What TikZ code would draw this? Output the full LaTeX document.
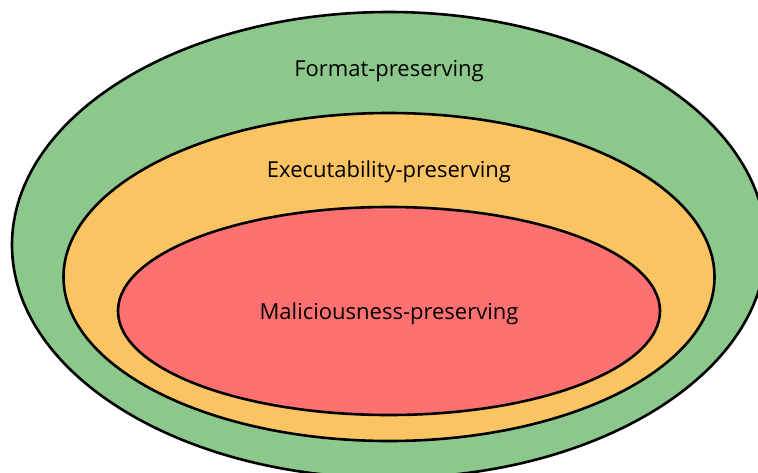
\documentclass[tikz,border=0pt]{standalone}
\usepackage{fontspec}
\setmainfont{Open Sans}
\usepackage{tikz}
\usetikzlibrary{shapes.geometric}

\definecolor{formatgreen}{RGB}{140,200,140}
\definecolor{execorange}{RGB}{251,196,99}
\definecolor{malred}{RGB}{255,113,113}

\begin{document}
\begin{tikzpicture}[x=1pt,y=-1pt]
    \tikzstyle{set} = [draw, shape=ellipse, line width=2.6pt, inner sep=0pt];
    \tikzstyle{setlabel} = [font=\fontsize{22}{26}\selectfont, inner sep=0pt];

    \useasboundingbox (0,0) rectangle (758,472);
    \clip (0,0) rectangle (758,472);

    % Sets
    \node [set, fill=formatgreen, minimum width=754pt, minimum height=466pt] (format) at (389,245) {};
    \node [set, fill=execorange, minimum width=651pt, minimum height=328pt] (exec) at (389,277) {};
    \node [set, fill=malred, minimum width=542pt, minimum height=208pt] (mal) at (389,311) {};

    % Labels
    \node [setlabel] (formatlabel) at (389,71.5) {Format-preserving};
    \node [setlabel] (execlabel) at (389,171.5) {Executability-preserving};
    \node [setlabel] (mallabel) at (389,313.5) {Maliciousness-preserving};
\end{tikzpicture}
\end{document}
